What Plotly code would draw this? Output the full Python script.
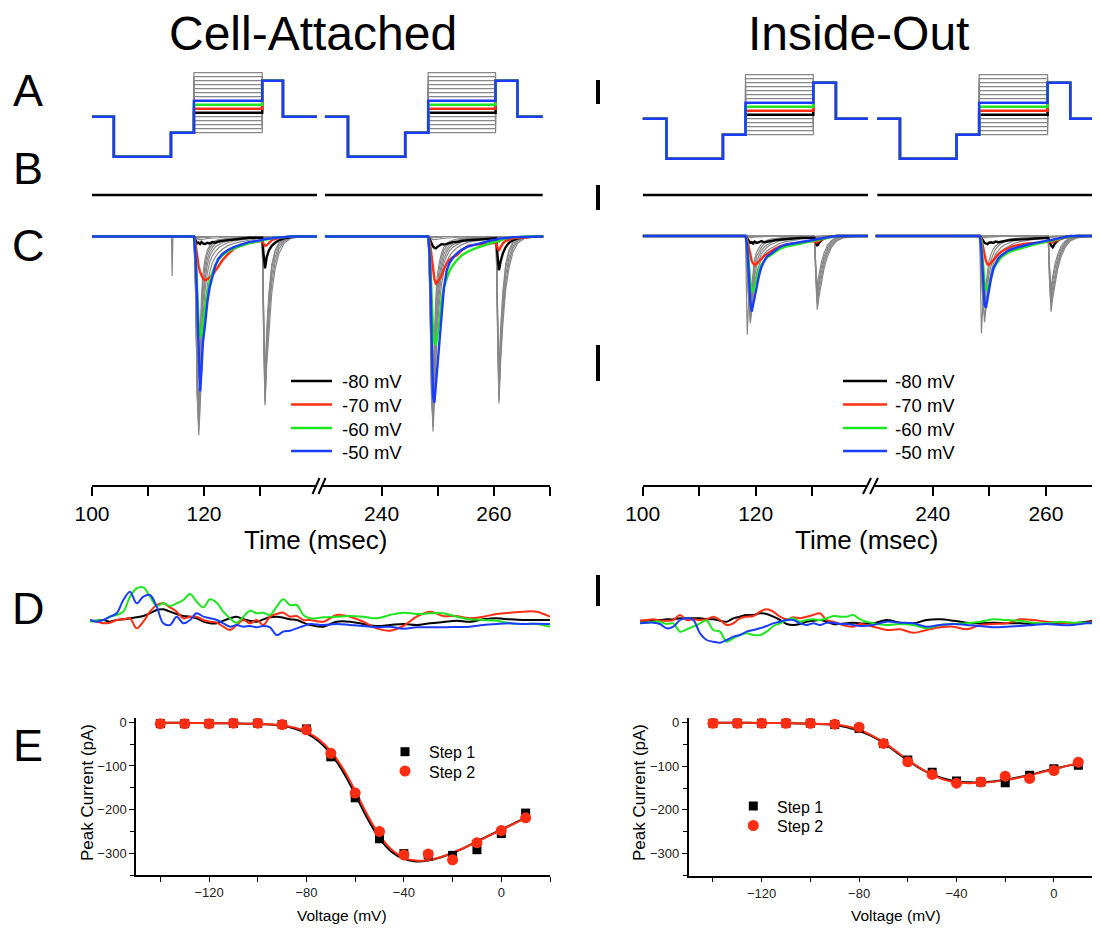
import plotly.graph_objects as go

W, H = 1100, 928
OFF = 8  # page body margin of the rendered html
FONT = "Liberation Sans, Arial, Helvetica, sans-serif"
BLUE = "#1a3cff"
RED = "#ff2d12"
GREEN = "#1ee61e"
BLACK = "#000000"
GRAY = "#878787"


def px(x):
    return (x - OFF) / W


def py(y):
    return 1 - (y - OFF) / H


# ---------------- Panel A : voltage protocol (mV) ----------------
HOLD, PRE, INTER, HIGH = -90, -190, -130, 0
GRAY_LEVELS = [-130, -120, -110, -100, -90, -80, -70, -60, -50, -40, -30, -20, -10, 0, 10, 20]
COLOR_LEVELS = [-80, -70, -60, -50]
A_T_L1 = [100, 103.9, 114.1, 118.2, 130.4, 134.1, 140.2]
A_T_L2 = [229.9, 234.0, 244.2, 248.3, 260.3, 264.2, 268.7]
A_T_R1 = [100, 104.2, 114.2, 118.2, 130.2, 134.2, 139.9]
A_T_R2 = [230.2, 234.2, 244.2, 248.2, 260.3, 264.3, 268.5]

# ---------------- Panel B ----------------
B_T_L1 = [100, 140.2]
B_T_L2 = [229.9, 268.7]
B_T_R1 = [100, 139.9]
B_T_R2 = [230.2, 268.5]
B_I = [0, 0]

# ---------------- Panel C : currents (pA) ----------------
C_T1 = [100, 114.2, 114.3, 114.45, 118.2, 118.5, 118.8, 119.05, 119.3, 119.55, 119.8, 120.2, 120.6, 121.0,
        121.5, 122.0, 122.6, 123.3, 124.2, 125.3, 126.6, 128.0, 129.5, 130.4, 130.65, 130.9, 131.2, 131.6,
        132.1, 132.7, 133.4, 134.3, 135.5, 137.5, 140.3]
C_T2 = [229.9, 244.3, 244.4, 248.3, 248.6, 248.9, 249.15, 249.4, 249.65, 249.9, 250.3, 250.7, 251.1, 251.6,
        252.1, 252.7, 253.4, 254.3, 255.4, 256.7, 258.2, 259.6, 260.4, 260.65, 260.9, 261.2, 261.6, 262.1,
        262.7, 263.4, 264.3, 265.5, 267.5, 268.8]

# Cell-attached, step 1
CA1_M80 = [0, 0, 0, 0, 0, -6, -11, -10, -12, -9, -11, -12, -10, -11, -9, -10, -8, -7, -6, -4, -3, -2, -2, -2,
           -30, -51, -33, -22, -15, -10, -6, -3, -1, 0, 0]
CA1_M70 = [0, 0, 0, 0, 0, -12, -35, -48, -57, -63, -67, -70, -68, -66, -62, -55, -46, -38, -29, -20, -14, -10,
           -8, -7, -12, -15, -14, -11, -6, -4, -2, -1, 0, 0, 0]
CA1_M60 = [0, 0, 0, 0, 0, -25, -90, -140, -158, -160, -138, -112, -90, -74, -58, -47, -37, -30, -24, -19, -15,
           -11, -8, -6, -5, -5, -4, -3, -3, -2, -2, -1, 0, 0, 0]
CA1_M50 = [0, 0, 0, 0, 0, -30, -120, -205, -248, -215, -170, -140, -105, -82, -62, -47, -35, -28, -22, -17, -13,
           -9, -7, -6, -5, -4, -4, -3, -3, -2, -2, -1, 0, 0, 0]
CA1_GRAY = [
    [0, 0, -63, 0, 0, 0, -2, -2, -2, -2, -1, -1, -1, -1, 0, 0, 0, 0, 0, 0, 0, 0, 0, 0, -160, -270, -205, -145, -90, -52, -27, -11, -3, 0, 0],
    [0, 0, 0, 0, 0, 0, -1, -2, -2, -1, -1, -1, 0, 0, 0, 0, 0, 0, 0, 0, 0, 0, 0, 0, -150, -265, -190, -128, -75, -42, -20, -8, -2, 0, 0],
    [0, 0, 0, 0, 0, 0, -1, -1, -1, -1, 0, 0, 0, 0, 0, 0, 0, 0, 0, 0, 0, 0, 0, 0, -140, -258, -178, -112, -62, -33, -15, -6, -2, 0, 0],
    [0, 0, 0, 0, 0, 0, -1, -2, -2, -2, -1, -1, -1, 0, 0, 0, 0, 0, 0, 0, 0, 0, 0, 0, -125, -248, -160, -98, -50, -25, -11, -4, -1, 0, 0],
    [0, 0, 0, 0, 0, -2, -4, -5, -5, -5, -4, -4, -3, -3, -2, -2, -2, -1, -1, -1, 0, 0, 0, 0, -115, -232, -150, -90, -45, -22, -10, -3, -1, 0, 0],
    [0, 0, 0, 0, 0, -60, -230, -318, -275, -215, -160, -110, -78, -57, -42, -33, -26, -20, -15, -11, -8, -6, -4, -3, -3, -4, -3, -2, -1, -1, 0, 0, 0, 0, 0],
    [0, 0, 0, 0, 0, -70, -250, -310, -250, -185, -130, -85, -58, -42, -31, -24, -18, -14, -10, -7, -5, -4, -3, -2, -2, -2, -2, -1, -1, 0, 0, 0, 0, 0, 0],
    [0, 0, 0, 0, 0, -80, -260, -300, -230, -160, -108, -68, -45, -32, -23, -17, -13, -10, -7, -5, -4, -3, -2, -1, -1, -1, -1, 0, 0, 0, 0, 0, 0, 0, 0],
    [0, 0, 0, 0, 0, -85, -255, -285, -210, -140, -92, -56, -36, -25, -17, -12, -9, -7, -5, -4, -3, -2, -1, -1, 0, -1, 0, 0, 0, 0, 0, 0, 0, 0, 0],
    [0, 0, 0, 0, 0, -90, -240, -262, -185, -118, -76, -45, -28, -19, -13, -9, -7, -5, -4, -3, -2, -1, -1, 0, 0, 0, 0, 0, 0, 0, 0, 0, 0, 0, 0],
    [0, 0, 0, 0, 0, -90, -215, -225, -155, -96, -60, -35, -22, -15, -10, -7, -5, -4, -3, -2, -1, -1, 0, 0, 0, 0, 0, 0, 0, 0, 0, 0, 0, 0, 0],
]

# Cell-attached, step 2
CA2_M80 = [0, 0, 0, 0, -5, -12, -16, -18, -19, -17, -14, -12, -13, -12, -10, -9, -9, -7, -6, -5, -4, -3, -3,
           -30, -54, -40, -27, -17, -10, -6, -3, -1, 0, 0]
CA2_M70 = [0, 0, 0, 0, -10, -35, -55, -68, -75, -73, -68, -62, -52, -43, -37, -33, -30, -22, -15, -13, -12, -10,
           -10, -18, -23, -17, -11, -7, -5, -3, -2, -1, 0, 0]
CA2_M60 = [0, 0, 0, 0, -25, -95, -150, -170, -174, -160, -135, -100, -82, -67, -55, -46, -38, -30, -24, -19, -14,
           -10, -8, -7, -8, -6, -5, -3, -2, -1, -1, 0, 0, 0]
CA2_M50 = [0, 0, 0, 0, -35, -150, -255, -266, -238, -205, -160, -115, -82, -54, -42, -34, -27, -21, -16, -13, -9,
           -6, -5, -4, -4, -3, -3, -2, -2, -1, -1, 0, 0, 0]
CA2_GRAY = [
    [0, 0, 0, 0, 0, 0, -1, -1, -1, -1, 0, 0, 0, 0, 0, 0, 0, 0, 0, 0, 0, 0, 0, -150, -267, -200, -140, -85, -50, -25, -10, -3, 0, 0],
    [0, 0, 0, 0, 0, 0, -1, -1, -1, 0, 0, 0, 0, 0, 0, 0, 0, 0, 0, 0, 0, 0, 0, -140, -262, -188, -126, -74, -41, -19, -7, -2, 0, 0],
    [0, 0, 0, 0, 0, 0, -1, -1, 0, 0, 0, 0, 0, 0, 0, 0, 0, 0, 0, 0, 0, 0, 0, -130, -255, -175, -112, -62, -33, -15, -6, -2, 0, 0],
    [0, 0, 0, 0, 0, -1, -2, -2, -2, -1, -1, -1, 0, 0, 0, 0, 0, 0, 0, 0, 0, 0, 0, -120, -245, -160, -98, -50, -25, -11, -4, -1, 0, 0],
    [0, 0, 0, 0, -2, -4, -5, -5, -5, -4, -4, -3, -3, -2, -2, -2, -1, -1, -1, 0, 0, 0, 0, -110, -228, -148, -88, -44, -21, -9, -3, -1, 0, 0],
    [0, 0, 0, 0, -70, -240, -312, -262, -200, -150, -105, -75, -55, -40, -31, -24, -18, -13, -9, -7, -5, -3, -3, -2, -3, -3, -2, -1, -1, 0, 0, 0, 0, 0],
    [0, 0, 0, 0, -80, -255, -305, -245, -180, -130, -88, -60, -43, -31, -23, -17, -13, -9, -6, -4, -3, -2, -2, -1, -2, -2, -1, -1, 0, 0, 0, 0, 0, 0],
    [0, 0, 0, 0, -90, -262, -295, -225, -160, -112, -74, -50, -35, -25, -18, -13, -10, -7, -5, -3, -2, -1, -1, -1, -1, -1, -1, 0, 0, 0, 0, 0, 0, 0],
    [0, 0, 0, 0, -95, -255, -280, -205, -142, -96, -62, -41, -28, -20, -14, -10, -7, -5, -4, -2, -2, -1, -1, 0, 0, 0, 0, 0, 0, 0, 0, 0, 0, 0],
    [0, 0, 0, 0, -95, -240, -258, -180, -120, -80, -50, -32, -22, -15, -11, -8, -6, -4, -3, -2, -1, -1, 0, 0, 0, 0, 0, 0, 0, 0, 0, 0, 0, 0],
    [0, 0, 0, 0, -90, -210, -222, -150, -98, -64, -40, -26, -17, -12, -8, -6, -4, -3, -2, -1, -1, 0, 0, 0, 0, 0, 0, 0, 0, 0, 0, 0, 0, 0],
]

# Inside-out, step 1
IO1_M80 = [0, 0, 0, 0, 0, -4, -9, -11, -10, -12, -9, -11, -10, -8, -10, -9, -8, -7, -6, -5, -4, -3, -3, -3,
           -10, -16, -11, -7, -4, -2, -1, 0, 0, 0, 0]
IO1_M70 = [0, 0, 0, 0, 0, -6, -20, -32, -40, -44, -46, -44, -40, -36, -32, -29, -25, -21, -17, -14, -12, -10,
           -9, -8, -10, -10, -8, -6, -4, -2, -1, 0, 0, 0, 0]
IO1_M60 = [0, 0, 0, 0, 0, -10, -45, -75, -86, -89, -80, -66, -54, -46, -39, -34, -31, -26, -21, -17, -14, -12,
           -9, -8, -7, -7, -6, -5, -4, -2, -1, 0, 0, 0, 0]
IO1_M50 = [0, 0, 0, 0, 0, -15, -60, -105, -121, -110, -95, -80, -63, -50, -40, -33, -29, -24, -18, -14, -12, -10,
           -8, -7, -6, -6, -5, -4, -3, -2, -1, 0, 0, 0, 0]
IO1_GRAY = [
    [0, 0, 0, 0, 0, 0, -1, -1, -1, 0, 0, 0, 0, 0, 0, 0, 0, 0, 0, 0, 0, 0, 0, 0, -70, -118, -98, -75, -52, -33, -18, -8, -3, -1, 0],
    [0, 0, 0, 0, 0, 0, -1, -1, 0, 0, 0, 0, 0, 0, 0, 0, 0, 0, 0, 0, 0, 0, 0, 0, -65, -108, -88, -66, -45, -28, -15, -6, -2, 0, 0],
    [0, 0, 0, 0, 0, 0, 0, -1, -1, 0, 0, 0, 0, 0, 0, 0, 0, 0, 0, 0, 0, 0, 0, 0, -60, -100, -80, -58, -38, -23, -12, -5, -1, 0, 0],
    [0, 0, 0, 0, 0, 0, -1, -1, -1, -1, 0, 0, 0, 0, 0, 0, 0, 0, 0, 0, 0, 0, 0, 0, -55, -92, -72, -51, -33, -19, -9, -3, -1, 0, 0],
    [0, 0, 0, 0, 0, -1, -2, -3, -3, -2, -2, -2, -1, -1, -1, 0, 0, 0, 0, 0, 0, 0, 0, 0, -48, -82, -62, -43, -27, -15, -7, -2, 0, 0, 0],
    [0, 0, 0, 0, 0, -40, -110, -140, -120, -95, -75, -58, -45, -36, -29, -24, -20, -16, -12, -9, -7, -5, -4, -3, -3, -3, -2, -2, -1, -1, 0, 0, 0, 0, 0],
    [0, 0, 0, 0, 0, -158, -95, -135, -112, -85, -65, -48, -37, -29, -23, -18, -14, -11, -8, -6, -4, -3, -2, -2, -2, -2, -1, -1, 0, 0, 0, 0, 0, 0, 0],
    [0, 0, 0, 0, 0, -50, -115, -128, -100, -75, -55, -40, -30, -23, -18, -14, -11, -8, -6, -4, -3, -2, -2, -1, -1, -1, -1, 0, 0, 0, 0, 0, 0, 0, 0],
    [0, 0, 0, 0, 0, -55, -110, -115, -88, -64, -46, -32, -24, -18, -13, -10, -8, -6, -4, -3, -2, -1, -1, -1, 0, 0, 0, 0, 0, 0, 0, 0, 0, 0, 0],
    [0, 0, 0, 0, 0, -55, -98, -100, -75, -52, -37, -25, -18, -13, -10, -7, -5, -4, -3, -2, -1, -1, 0, 0, 0, 0, 0, 0, 0, 0, 0, 0, 0, 0, 0],
]

# Inside-out, step 2
IO2_M80 = [0, 0, 0, 0, -3, -8, -11, -12, -13, -11, -10, -11, -9, -10, -9, -8, -7, -6, -6, -5, -4, -3, -3, -8,
           -15, -18, -12, -7, -4, -2, -1, 0, 0, 0]
IO2_M70 = [0, 0, 0, 0, -5, -18, -32, -40, -45, -46, -43, -38, -34, -29, -25, -22, -19, -16, -14, -12, -11, -10,
           -9, -9, -10, -10, -8, -6, -4, -2, -1, 0, 0, 0]
IO2_M60 = [0, 0, 0, 0, -10, -45, -75, -84, -86, -80, -66, -54, -46, -39, -34, -30, -26, -23, -20, -16, -13, -10,
           -9, -8, -8, -7, -6, -5, -3, -2, -1, 0, 0, 0]
IO2_M50 = [0, 0, 0, 0, -20, -75, -110, -115, -100, -85, -68, -52, -44, -36, -31, -27, -23, -20, -17, -14, -11,
           -8, -7, -7, -7, -6, -5, -4, -3, -2, 0, 0, 0, 0]
IO2_GRAY = [
    [0, 0, 0, 0, 0, 0, -1, -1, 0, 0, 0, 0, 0, 0, 0, 0, 0, 0, 0, 0, 0, 0, 0, -75, -121, -100, -76, -52, -33, -18, -8, -3, -1, 0],
    [0, 0, 0, 0, 0, 0, -1, 0, 0, 0, 0, 0, 0, 0, 0, 0, 0, 0, 0, 0, 0, 0, 0, -68, -110, -90, -68, -46, -28, -15, -6, -2, 0, 0],
    [0, 0, 0, 0, 0, 0, 0, -1, 0, 0, 0, 0, 0, 0, 0, 0, 0, 0, 0, 0, 0, 0, 0, -62, -102, -82, -60, -40, -24, -12, -5, -1, 0, 0],
    [0, 0, 0, 0, 0, 0, -1, -1, -1, 0, 0, 0, 0, 0, 0, 0, 0, 0, 0, 0, 0, 0, 0, -55, -93, -73, -52, -34, -20, -10, -4, -1, 0, 0],
    [0, 0, 0, 0, -1, -2, -3, -3, -2, -2, -2, -1, -1, -1, 0, 0, 0, 0, 0, 0, 0, 0, 0, -50, -85, -65, -45, -29, -16, -8, -3, 0, 0, 0],
    [0, 0, 0, 0, -156, -100, -138, -118, -95, -76, -58, -45, -37, -30, -25, -20, -16, -12, -9, -7, -5, -4, -3, -3, -3, -2, -2, -1, -1, 0, 0, 0, 0, 0],
    [0, 0, 0, 0, -60, -115, -128, -105, -82, -64, -48, -37, -29, -23, -18, -14, -11, -8, -6, -4, -3, -2, -2, -1, -1, -1, -1, 0, 0, 0, 0, 0, 0, 0],
    [0, 0, 0, 0, -60, -105, -112, -90, -69, -52, -38, -28, -21, -16, -12, -9, -7, -5, -4, -3, -2, -1, -1, -1, 0, 0, 0, 0, 0, 0, 0, 0, 0, 0],
    [0, 0, 0, 0, -55, -92, -98, -76, -56, -41, -29, -21, -16, -12, -9, -7, -5, -4, -3, -2, -1, -1, 0, 0, 0, 0, 0, 0, 0, 0, 0, 0, 0, 0],
]

# ---------------- Panel D : difference traces (0.1 pA) ----------------
D_T = [0, 1, 2, 3, 4, 5, 6, 7, 8, 9, 10, 11, 12, 13, 14, 15, 16, 17, 18, 19, 20, 21, 22, 23, 24, 25, 26, 27,
       28, 29, 30, 31, 32, 33, 35, 37, 39, 41, 43, 45, 47, 49, 51, 53, 55, 57, 59, 61, 63, 65, 67, 69]
DL_M80 = [0, 0, 2, -3, 2, 4, 7, 10, 14, 22, 32, 34, 27, 20, 14, 12, 7, -3, -8, -8, 0, 7, 12, 4, 0, -3, 4, 10,
          12, 9, 4, 2, -6, -13, -18, -3, -3, -10, -16, -13, -10, -13, -8, -4, 0, -3, 4, 7, 4, 2, 2, 2]
DL_M70 = [0, -3, -8, -6, 2, 4, 7, -23, -3, 27, 47, 52, 40, 27, 7, 12, 12, 2, -3, -6, -18, -28, -13, 2, -8, 2,
          -13, 12, 20, 24, 12, 14, 2, 2, -3, 17, 12, -3, -23, -30, -16, 12, 27, 14, 14, 7, 12, 20, 24, 27, 27, 12]
DL_M60 = [-3, 0, 2, 12, 17, 27, 72, 97, 100, 72, 44, 52, 44, 52, 62, 80, 57, 40, 64, 54, 27, 7, -6, 12, 30, 22,
          24, 17, 42, 64, 47, 47, 17, 7, 10, 12, 14, 12, 7, 17, 24, 20, 22, 22, 12, 4, 2, 0, -8, -10, -10, -18]
DL_M50 = [2, -3, 2, 12, 22, 62, 87, 52, 72, 77, 42, -8, -13, 12, -8, 2, 22, 12, 7, 2, -8, -18, -13, -18, -16,
          -20, -16, -20, -43, -33, -30, -23, -16, -10, -13, -10, -13, -16, -20, -18, -24, -20, -20, -20, -19,
          -18, -13, -10, -8, -10, -9, -10]
DR_M80 = [3, 3, 5, 5, 7, 7, 10, 10, 10, 10, 7, 7, 3, 0, 10, 15, 20, 20, 25, 23, 15, 5, -7, -10, -7, 0, 3, 5, 0,
          -7, -7, -5, -3, -5, -5, 5, -3, -5, 5, 7, 3, -3, -5, -3, -5, -5, -7, -7, -3, -5, 0, 5]
DR_M70 = [3, 5, 7, 3, 3, 5, 20, 5, 7, 5, 7, 15, 5, -10, -5, 10, 15, 17, 30, 37, 30, 15, 7, 13, 10, 15, 20, 25,
          5, 0, -7, -13, -15, -7, -15, -25, -23, -33, -25, -17, -15, -23, -10, -7, -5, 7, 5, 0, -3, -5, -3, 3]
DR_M60 = [-3, -3, 0, 0, -7, -5, -30, -23, -15, -5, 3, -25, -30, -60, -50, -40, -35, -40, -40, -30, -13, -5, 5,
          10, 0, 5, 7, 5, 10, 17, 15, 15, 20, 7, -5, -10, -7, -10, -20, -10, -7, -5, 0, 7, 5, 3, -3, -5, 0, -3,
          -3, -10]
DR_M50 = [-5, -3, -3, -7, -20, -15, 5, 10, 5, -35, -55, -60, -63, -55, -45, -40, -30, -25, -20, -13, -5, 0, 5,
          5, -5, -10, -5, -10, -3, -3, -7, -7, -10, -13, -10, 0, -3, -5, -15, -10, -7, -10, -13, -17, -15, -13,
          -10, -7, -10, -10, -5, -3]

# ---------------- Panel E : I-V (pA vs mV) ----------------
VOLT = [-140, -130, -120, -110, -100, -90, -80, -70, -60, -50, -40, -30, -20, -10, 0, 10]
CA_STEP1 = [-3, -3, -3, -2, -2, -5, -15, -79, -173, -267, -301, -304, -305, -292, -255, -208]
CA_STEP2 = [-3, -3, -3, -2, -2, -5, -17, -71, -162, -250, -304, -302, -315, -276, -248, -219]
IO_STEP1 = [-2, -2, -2, -2, -2, -5, -14, -48, -86, -114, -134, -136, -138, -121, -106, -98]
IO_STEP2 = [-2, -2, -2, -2, -2, -4, -11, -48, -90, -119, -139, -136, -123, -128, -110, -91]
FIT_V = [-140, -135, -130, -125, -120, -115, -110, -105, -100, -95, -90, -85, -80, -75, -70, -65, -60, -55,
         -50, -45, -40, -35, -30, -25, -20, -15, -10, -5, 0, 5, 10]
CA_FIT1 = [-1, -1, -1, -1.5, -2, -2, -2.5, -3, -3.5, -5, -8, -14, -25, -43, -72, -113, -165, -220, -266, -297,
           -313, -319, -317, -310, -300, -287, -273, -259, -246, -232, -219]
CA_FIT2 = [-1, -1, -1, -1.5, -2, -2, -2.5, -3, -3.5, -4.5, -7, -12, -22, -39, -66, -106, -157, -212, -259, -292,
           -310, -317, -316, -309, -299, -287, -274, -260, -247, -233, -220]
IO_FIT1 = [-1, -1, -1, -1, -1.5, -1.5, -2, -2.5, -3, -4, -6, -11, -19, -31, -47, -67, -87, -105, -119, -129,
           -135, -137, -137, -135, -131, -126, -120, -113, -106, -100, -94]
IO_FIT2 = [-1, -1, -1, -1, -1.5, -1.5, -2, -2.5, -3, -3.5, -5, -9, -17, -29, -45, -65, -86, -104, -120, -131,
           -137, -139, -138, -136, -132, -127, -121, -114, -107, -100, -93]

LEVEL_NAMES = ["-80 mV", "-70 mV", "-60 mV", "-50 mV"]
LEVEL_COLORS = [BLACK, RED, GREEN, BLUE]
STEP_NAMES = ["Step 1", "Step 2"]

fig = go.Figure()


def line(x, y, xa, ya, color, width, name="", shape="linear"):
    fig.add_trace(go.Scatter(x=x, y=y, xaxis=xa, yaxis=ya, mode="lines", name=name,
                             line=dict(color=color, width=width, shape=shape),
                             showlegend=False, hoverinfo="skip"))


def protocol(level):
    return [HOLD, PRE, INTER, level, HIGH, HOLD, HOLD]


# ---- A : protocol ----
for ts, xa, ya in [(A_T_L1, "x", "y"), (A_T_L2, "x2", "y"), (A_T_R1, "x3", "y4"), (A_T_R2, "x4", "y4")]:
    for lv in GRAY_LEVELS:
        line(ts, protocol(lv), xa, ya, GRAY, 1.2, shape="hv")
    for lv, col in zip(COLOR_LEVELS, LEVEL_COLORS):
        line(ts, protocol(lv), xa, ya, col, 2.5, shape="hv")

# ---- B ----
for ts, xa, ya in [(B_T_L1, "x", "y2"), (B_T_L2, "x2", "y2"), (B_T_R1, "x3", "y5"), (B_T_R2, "x4", "y5")]:
    line(ts, B_I, xa, ya, BLACK, 2.5)

# ---- C ----
C_SETS = [
    (C_T1, "x", "y3", CA1_GRAY, [CA1_M80, CA1_M70, CA1_M60, CA1_M50]),
    (C_T2, "x2", "y3", CA2_GRAY, [CA2_M80, CA2_M70, CA2_M60, CA2_M50]),
    (C_T1, "x3", "y6", IO1_GRAY, [IO1_M80, IO1_M70, IO1_M60, IO1_M50]),
    (C_T2, "x4", "y6", IO2_GRAY, [IO2_M80, IO2_M70, IO2_M60, IO2_M50]),
]
for ts, xa, ya, grays, cols in C_SETS:
    for g in grays:
        line(ts, g, xa, ya, GRAY, 1.2)
    for vals, col, nm in zip(cols, LEVEL_COLORS, LEVEL_NAMES):
        line(ts, vals, xa, ya, col, 2.4, name=nm)

# ---- D ----
for xa, ya, series in [("x5", "y7", [DL_M80, DL_M70, DL_M60, DL_M50]),
                       ("x6", "y8", [DR_M80, DR_M70, DR_M60, DR_M50])]:
    for vals, col, nm in zip(series, LEVEL_COLORS, LEVEL_NAMES):
        line(D_T, vals, xa, ya, col, 2.0, name=nm, shape="spline")

# ---- E ----
for xa, ya, f1, f2, s1, s2 in [("x7", "y9", CA_FIT1, CA_FIT2, CA_STEP1, CA_STEP2),
                               ("x8", "y10", IO_FIT1, IO_FIT2, IO_STEP1, IO_STEP2)]:
    line(FIT_V, f1, xa, ya, BLACK, 2.0, shape="spline")
    line(FIT_V, f2, xa, ya, RED, 2.0, shape="spline")
    fig.add_trace(go.Scatter(x=VOLT, y=s1, xaxis=xa, yaxis=ya, mode="markers", name=STEP_NAMES[0],
                             marker=dict(symbol="square", size=9, color=BLACK),
                             showlegend=False, hoverinfo="skip"))
    fig.add_trace(go.Scatter(x=VOLT, y=s2, xaxis=xa, yaxis=ya, mode="markers", name=STEP_NAMES[1],
                             marker=dict(symbol="circle", size=11, color=RED),
                             showlegend=False, hoverinfo="skip"))

# ---------------- layout ----------------
TIME_Y = py(486)
time_axis = dict(anchor="free", position=TIME_Y, showline=True, linecolor="black", linewidth=2,
                 ticks="outside", ticklen=9, tickwidth=2, tickcolor="black", showgrid=False,
                 zeroline=False, automargin=False, tickfont=dict(size=21, family=FONT, color="black"))
hidden = dict(visible=False, showgrid=False, zeroline=False, automargin=False)
e_x = dict(showline=True, linecolor="black", linewidth=1.5, ticks="outside", ticklen=5, tickwidth=1.3,
           tickcolor="black", showgrid=False, zeroline=False, automargin=False, tickvals=[-120, -80, -40, 0],
           tickfont=dict(size=13, family=FONT, color="#222"),
           minor=dict(ticks="outside", dtick=20, tick0=0, ticklen=5, tickwidth=1.3, tickcolor="black"))
e_y = dict(showline=True, linecolor="black", linewidth=1.5, ticks="outside", ticklen=5, tickwidth=1.3,
           tickcolor="black", showgrid=False, zeroline=False, automargin=False, tickvals=[0, -100, -200, -300],
           range=[-350, 10], tickfont=dict(size=13, family=FONT, color="#222"),
           minor=dict(ticks="outside", dtick=50, tick0=0, ticklen=4, tickwidth=1.3, tickcolor="black"))

layout = dict(
    width=W, height=H, margin=dict(l=0, r=0, t=0, b=0, pad=0, autoexpand=False),
    paper_bgcolor="white", plot_bgcolor="rgba(0,0,0,0)",
    font=dict(family=FONT, color="black"), showlegend=False,
    xaxis=dict(time_axis, domain=[px(92), px(317)], range=[100, 140.18],
               tickvals=[100, 110, 120, 130], ticktext=["100", "", "120", ""]),
    xaxis2=dict(time_axis, domain=[px(323), px(550)], range=[229.55, 270.0],
                tickvals=[240, 250, 260, 270], ticktext=["240", "", "260", ""]),
    xaxis3=dict(time_axis, domain=[px(642.7), px(868)], range=[100, 139.88],
                tickvals=[100, 110, 120, 130], ticktext=["100", "", "120", ""]),
    xaxis4=dict(time_axis, domain=[px(875), px(1100)], range=[229.79, 269.56],
                tickvals=[240, 250, 260], ticktext=["240", "", "260"]),
    yaxis=dict(hidden, domain=[py(170), py(60)], range=[-223.25, 51.75]),
    yaxis2=dict(hidden, domain=[py(205), py(185)], range=[-1, 1]),
    yaxis3=dict(hidden, domain=[py(440), py(230)], range=[-325.6, 10.4]),
    yaxis4=dict(hidden, domain=[py(170), py(60)], range=[-218.25, 56.75]),
    yaxis5=dict(hidden, domain=[py(205), py(185)], range=[-1, 1]),
    yaxis6=dict(hidden, domain=[py(440), py(230)], range=[-326.4, 9.6]),
    xaxis5=dict(hidden, domain=[px(90), px(550)], range=[0, 69], anchor="y7"),
    xaxis6=dict(hidden, domain=[px(640), px(1100)], range=[0, 69], anchor="y8"),
    yaxis7=dict(hidden, domain=[py(650), py(570)], range=[-88, 152], anchor="x5"),
    yaxis8=dict(hidden, domain=[py(650), py(570)], range=[-85, 155], anchor="x6"),
    xaxis7=dict(e_x, domain=[px(136), px(550)], range=[-150, 20], anchor="y9"),
    yaxis9=dict(e_y, domain=[py(875), py(718)], anchor="x7"),
    xaxis8=dict(e_x, domain=[px(688.6), px(1099)], range=[-150, 18.5], anchor="y10"),
    yaxis10=dict(e_y, domain=[py(875.5), py(718)], anchor="x8"),
)

ann = []


def text(x, y, s, size, angle=0, xanchor="center"):
    ann.append(dict(x=px(x), y=py(y), xref="paper", yref="paper", text=s, showarrow=False,
                    xanchor=xanchor, yanchor="middle", textangle=angle,
                    font=dict(size=size, family=FONT, color="black")))


shapes = []


def seg(x0, y0, x1, y1, color, width):
    shapes.append(dict(type="line", xref="paper", yref="paper", x0=px(x0), x1=px(x1),
                       y0=py(y0), y1=py(y1), line=dict(color=color, width=width)))


text(313, 33, "Cell-Attached", 48)
text(858, 33, "Inside-Out", 48)
for letter, yy in [("A", 90), ("B", 168), ("C", 245), ("D", 608), ("E", 745)]:
    text(28, yy, letter, 45)
text(315, 540, "Time (msec)", 26)
text(866, 540, "Time (msec)", 26)
text(342, 915, "Voltage (mV)", 15.5)
text(896, 915, "Voltage (mV)", 15.5)
text(87, 793, "Peak Current (pA)", 17, -90)
text(639, 793, "Peak Current (pA)", 17, -90)

# legends of panel C (line keys + labels)
for (lx0, lx1, tx) in [(291, 332, 340), (843, 887, 893)]:
    for nm, col, yy in zip(LEVEL_NAMES, LEVEL_COLORS, [381, 404.5, 428, 451]):
        seg(lx0, yy, lx1, yy, col, 2.5)
        text(tx, yy + 1, nm, 18.5, xanchor="left")

# legends of panel E (marker keys + labels)
for (mx, tx, y1, y2) in [(405, 427, 751.7, 771), (753.3, 775, 806, 825.5)]:
    shapes.append(dict(type="rect", xref="paper", yref="paper", x0=px(mx - 4.5), x1=px(mx + 4.5),
                       y0=py(y1 + 4.5), y1=py(y1 - 4.5), line=dict(width=0), fillcolor=BLACK))
    shapes.append(dict(type="circle", xref="paper", yref="paper", x0=px(mx - 5.5), x1=px(mx + 5.5),
                       y0=py(y2 + 5.5), y1=py(y2 - 5.5), line=dict(width=0), fillcolor=RED))
    text(tx, y1 + 1, STEP_NAMES[0], 16, xanchor="left")
    text(tx, y2 + 1, STEP_NAMES[1], 16, xanchor="left")

# scale bars
for y0, y1 in [(80, 104), (185, 210), (345, 381), (575, 606)]:
    seg(598, y0, 598, y1, BLACK, 4)
# axis break marks
for xs in [(312.5, 319.5), (318.5, 325.5), (863, 871), (870, 878)]:
    seg(xs[0], 494, xs[1], 478, BLACK, 2)

layout["annotations"] = ann
layout["shapes"] = shapes

fig.update_layout(layout)
fig.write_html("out.html")
